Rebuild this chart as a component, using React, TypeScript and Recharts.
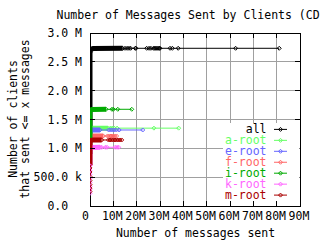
import React from 'react';
import { LineChart, Line, XAxis, YAxis, CartesianGrid, ReferenceArea } from 'recharts';

// ---- tick values / labels ----
const xTicks = [0, 10000000, 20000000, 30000000, 40000000, 50000000, 60000000, 70000000, 80000000, 90000000];
const xTickLabels = ['0 ', '10M', '20M', '30M', '40M', '50M', '60M', '70M', '80M', '90M'];
const yTicks = [0, 500000, 1000000, 1500000, 2000000, 2500000, 3000000];
const yTickLabels = ['0.0  ', '500.0 k', '1.0 M', '1.5 M', '2.0 M', '2.5 M', '3.0 M'];

// ---- series ----
const seriesNames = ['all', 'a-root', 'e-root', 'f-root', 'i-root', 'k-root', 'm-root'];
const seriesColors = ['#000000', '#66ff66', '#6666ff', '#ff6666', '#00aa00', '#ff66ff', '#aa0000'];

// [messages, clients]
const allSteep = [[0, 900000], [0, 2650000], [300000, 2715000], [1200000, 2730000], [14000000, 2735000]];
const allTail = [[14000000, 2735000], [15000000, 2735000], [15900000, 2735000], [16700000, 2735000], [17400000, 2735000], [19400000, 2735000], [19700000, 2735000], [24300000, 2735000], [25300000, 2735000], [26100000, 2735000], [27200000, 2735000], [27700000, 2735000], [28200000, 2735000], [28700000, 2735000], [29200000, 2735000], [29700000, 2735000], [30000000, 2735000], [34300000, 2735000], [35300000, 2735000], [37800000, 2735000], [62400000, 2735000], [81100000, 2735000]];

const aSteep = [[0, 900000], [0, 1300000], [300000, 1340000], [1000000, 1348000], [7700000, 1350000]];
const aTail = [[7700000, 1350000], [8700000, 1350000], [9500000, 1350000], [10400000, 1350000], [11600000, 1350000], [27400000, 1350000], [38000000, 1350000]];

const eSteep = [[0, 900000], [0, 1270000], [300000, 1310000], [1000000, 1316000], [4300000, 1318000]];
const eTail = [[4300000, 1318000], [8000000, 1318000], [8800000, 1318000], [9600000, 1318000], [10400000, 1318000], [11300000, 1318000], [12500000, 1318000], [22600000, 1318000]];

const fSteep = [[0, 900000], [0, 1170000], [300000, 1206000], [1000000, 1212000], [5700000, 1214000]];
const fTail = [[5700000, 1214000], [7500000, 1214000], [8300000, 1214000], [9000000, 1214000], [9800000, 1214000], [10600000, 1214000], [11400000, 1214000]];

const iSteep = [[0, 1100000], [0, 1630000], [300000, 1668000], [1000000, 1675000], [6900000, 1677000]];
const iTail = [[6900000, 1677000], [9400000, 1677000], [10000000, 1677000], [11900000, 1677000], [17900000, 1677000]];

const kLow = [[0, 220000], [0, 280000], [0, 340000], [0, 410000], [0, 480000], [0, 550000], [0, 620000], [0, 700000]];
const kSteep = [[0, 700000], [0, 975000], [300000, 1010000], [1000000, 1016000], [4300000, 1018000]];
const kTail = [[4300000, 1018000], [5000000, 1018000], [6600000, 1018000], [7300000, 1018000], [10800000, 1018000], [11600000, 1018000], [12300000, 1018000]];

const mLow = [[0, 250000], [0, 310000], [0, 370000], [0, 440000], [0, 510000], [0, 590000], [0, 660000], [0, 720000]];
const mSteep = [[0, 720000], [0, 1100000], [300000, 1137000], [1000000, 1143000], [5000000, 1145000]];
const mTail = [[5000000, 1145000], [7900000, 1145000], [8600000, 1145000], [9300000, 1145000], [10000000, 1145000], [10700000, 1145000], [11400000, 1145000], [12100000, 1145000], [12800000, 1145000], [13600000, 1145000]];

const seriesSteep = [allSteep, aSteep, eSteep, fSteep, iSteep, kSteep, mSteep];
const seriesTail = [allTail, aTail, eTail, fTail, iTail, kTail, mTail];
const seriesLow = [[], [], [], [], [], kLow, mLow];

// ---- layout ----
const W = 320;
const H = 240;
const PLOT_LEFT = 90;
const PLOT_RIGHT = 300;
const PLOT_TOP = 33;
const PLOT_BOTTOM = 206;
const FONT = "'DejaVu Sans Mono', monospace";
const FS = 11.5;
const TICK = 5;

const toRows = (arr: number[][]) => arr.map(([x, y]) => ({ x, y }));

const XTick = (props: any) => {
  const { x, payload } = props;
  const i = xTicks.indexOf(payload.value);
  return (
    <g>
      <line x1={x} x2={x} y1={PLOT_BOTTOM} y2={PLOT_BOTTOM - TICK} stroke="#000" shapeRendering="crispEdges" />
      <line x1={x} x2={x} y1={PLOT_TOP} y2={PLOT_TOP + TICK} stroke="#000" shapeRendering="crispEdges" />
      <text x={x - 1} y={PLOT_BOTTOM + 14} textAnchor="middle" fontFamily={FONT} fontSize={FS} fill="#000" style={{ whiteSpace: 'pre' }}>
        {xTickLabels[i]}
      </text>
    </g>
  );
};

const YTick = (props: any) => {
  const { y, payload } = props;
  const i = yTicks.indexOf(payload.value);
  return (
    <g>
      <line x1={PLOT_LEFT} x2={PLOT_LEFT + TICK} y1={y} y2={y} stroke="#000" shapeRendering="crispEdges" />
      <line x1={PLOT_RIGHT} x2={PLOT_RIGHT - TICK} y1={y} y2={y} stroke="#000" shapeRendering="crispEdges" />
      <text x={PLOT_LEFT - 8} y={y + 4} textAnchor="end" fontFamily={FONT} fontSize={FS} fill="#000" style={{ whiteSpace: 'pre' }}>
        {yTickLabels[i]}
      </text>
    </g>
  );
};

const diamondDot = (color: string, id: string) => (p: any) => {
  const { cx, cy, index } = p;
  if (cx == null || cy == null) return <g key={`${id}-${index}`} />;
  const s = 2;
  return (
    <path
      key={`${id}-${index}`}
      d={`M${cx},${cy - s}L${cx + s},${cy}L${cx},${cy + s}L${cx - s},${cy}Z`}
      fill="none"
      stroke={color}
      strokeWidth={1}
    />
  );
};

export default function App() {
  const lines: React.ReactNode[] = [];
  seriesNames.forEach((name, si) => {
    const c = seriesColors[si];
    lines.push(
      <Line
        key={`tail-${name}`}
        data={toRows(seriesTail[si])}
        dataKey="y"
        type="linear"
        stroke={c}
        strokeWidth={1}
        dot={diamondDot(c, `t${si}`)}
        activeDot={false}
        legendType="none"
        isAnimationActive={false}
      />
    );
    if (seriesLow[si].length > 0) {
      lines.push(
        <Line
          key={`low-${name}`}
          data={toRows(seriesLow[si])}
          dataKey="y"
          type="linear"
          stroke={c}
          strokeWidth={1}
          dot={diamondDot(c, `l${si}`)}
          activeDot={false}
          legendType="none"
          isAnimationActive={false}
        />
      );
    }
    lines.push(
      <Line
        key={`steep-${name}`}
        data={toRows(seriesSteep[si])}
        dataKey="y"
        type="linear"
        stroke={c}
        strokeWidth={5}
        strokeLinejoin="round"
        dot={false}
        activeDot={false}
        legendType="none"
        isAnimationActive={false}
      />
    );
  });

  const rowY = (i: number) => 129.4 + i * 10.95;

  return (
    <div style={{ position: 'absolute', left: 0, top: 0, width: W, height: H, background: '#fff' }}>
      <style>{`.recharts-cartesian-grid line { shape-rendering: crispEdges; } .recharts-reference-area rect, .recharts-reference-area path { shape-rendering: crispEdges; }`}</style>
      <LineChart
        width={W}
        height={H}
        margin={{ top: PLOT_TOP, right: W - PLOT_RIGHT, bottom: 4, left: PLOT_LEFT - 60 }}
      >
        <CartesianGrid stroke="#a0a0a0" strokeWidth={1} />
        <ReferenceArea x1={0} x2={90000000} y1={0} y2={3000000} fill="none" stroke="#000" strokeWidth={1} fillOpacity={0} ifOverflow="visible" />
        <XAxis
          type="number"
          dataKey="x"
          domain={[0, 90000000]}
          ticks={xTicks}
          interval={0}
          tick={<XTick />}
          tickLine={false}
          axisLine={false}
          height={30}
          allowDataOverflow
        />
        <YAxis
          type="number"
          domain={[0, 3000000]}
          ticks={yTicks}
          interval={0}
          tick={<YTick />}
          tickLine={false}
          axisLine={false}
          width={60}
          allowDataOverflow
        />
        {lines}
      </LineChart>
      <svg
        width={W}
        height={H}
        style={{ position: 'absolute', left: 0, top: 0, pointerEvents: 'none' }}
        fontFamily={FONT}
        fontSize={FS}
      >
        <text x={195} y={18.5} textAnchor="middle" fill="#000">Number of Messages Sent by Clients (CDF)</text>
        <text transform="translate(17,119) rotate(-90)" textAnchor="middle" fill="#000">Number of clients</text>
        <text transform="translate(29,119) rotate(-90)" textAnchor="middle" fill="#000">that sent &lt;= x messages</text>
        <text x={195.5} y={237} textAnchor="middle" fill="#000">Number of messages sent</text>
        <rect x={223} y={123} width={76.5} height={78} fill="#fff" />
        {seriesNames.map((name, i) => {
          const y = rowY(i);
          const c = seriesColors[i];
          const cx = 280.5;
          return (
            <g key={name}>
              <text x={266.5} y={y + 4} textAnchor="end" fill={c}>{name}</text>
              <line x1={274} x2={287} y1={y} y2={y} stroke={c} strokeWidth={1} />
              <path d={`M${cx},${y - 2}L${cx + 2},${y}L${cx},${y + 2}L${cx - 2},${y}Z`} fill="none" stroke={c} strokeWidth={1} />
            </g>
          );
        })}
      </svg>
    </div>
  );
}
